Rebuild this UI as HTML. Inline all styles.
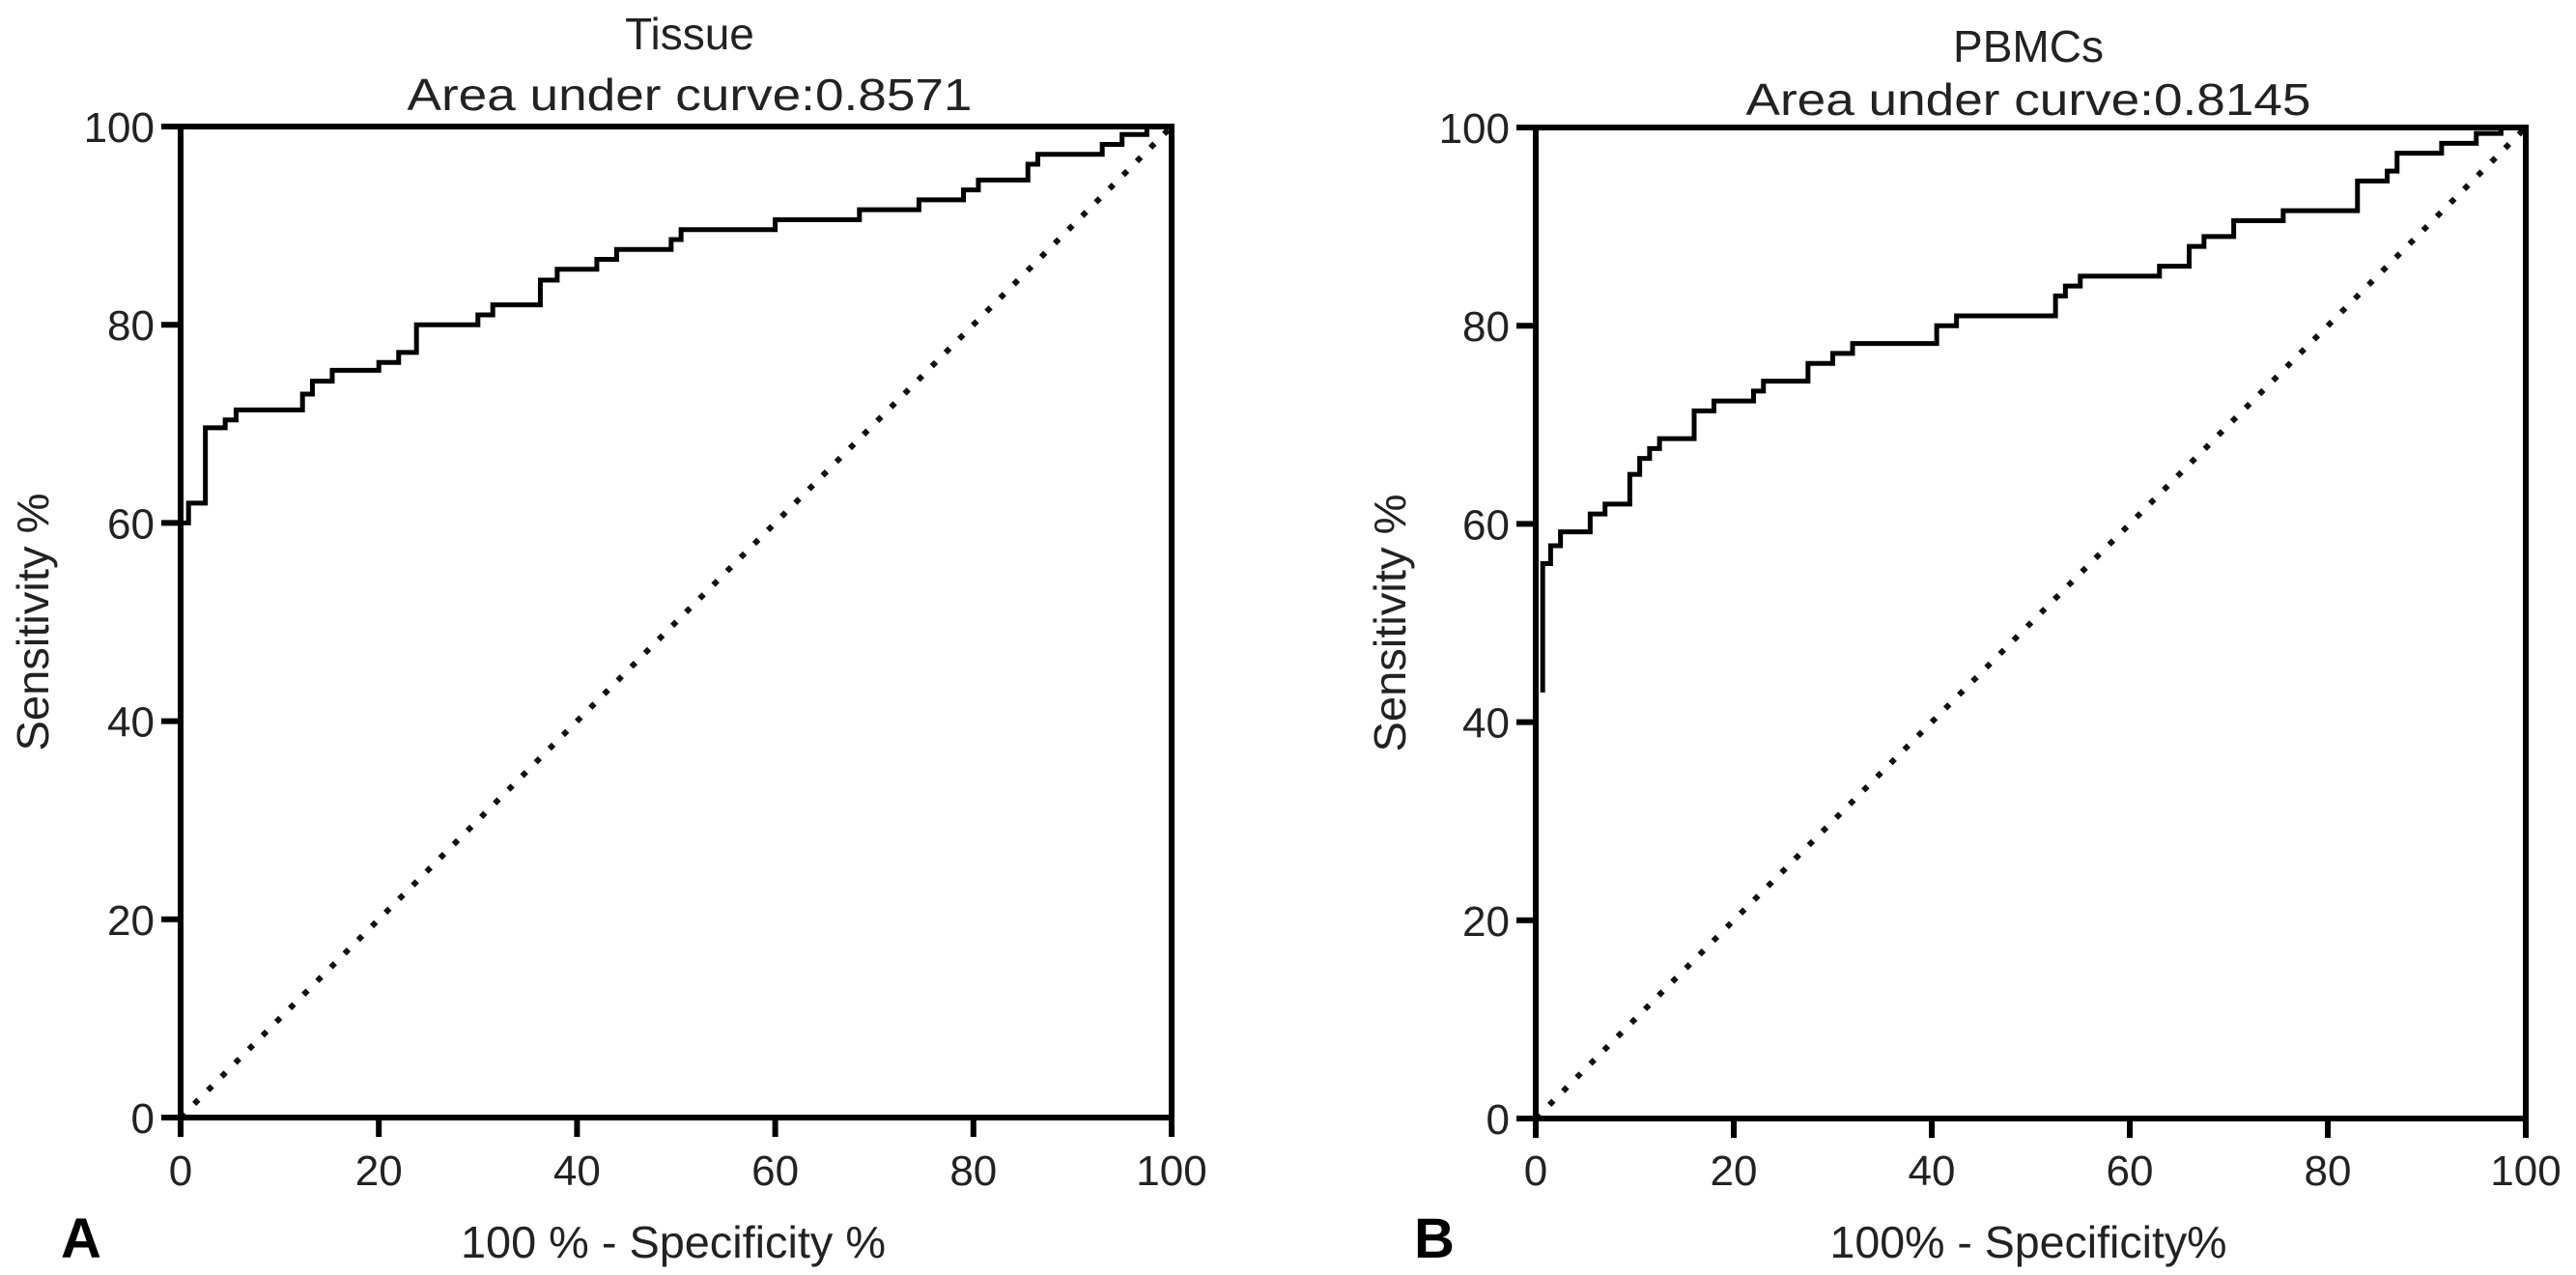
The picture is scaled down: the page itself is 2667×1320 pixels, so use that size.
<!DOCTYPE html>
<html><head><meta charset="utf-8"><style>
html,body{margin:0;padding:0;background:#fff;}
svg{display:block;font-family:"Liberation Sans",Arial,sans-serif;}
</style></head><body>
<svg id="fig" width="2667" height="1320" viewBox="0 0 2667 1320">
<rect width="2667" height="1320" fill="#fff"/>
</svg>
<script>
// Tissue ROC step vertices (100%-specificity, sensitivity)
const tissueX = [0, 0.8, 2.5, 4.5, 5.6, 12.3, 13.3, 15.3, 20, 22, 23.8, 30, 31.5, 36.3, 38, 42, 44, 49.5, 50.5, 60, 68.5, 74.5, 79, 80.5, 85.5, 86.5, 93, 95, 97.5, 100];
const tissueY = [60, 62, 69.6, 70.4, 71.4, 73, 74.3, 75.4, 76.2, 77.2, 80, 81, 82, 84.5, 85.6, 86.6, 87.6, 88.6, 89.6, 90.6, 91.6, 92.6, 93.6, 94.6, 96.2, 97.2, 98.2, 99.2, 100, 100];
// PBMCs ROC step vertices
const pbmcX = [0.7, 0.7, 1.5, 2.5, 5.5, 7, 9.5, 10.5, 11.5, 12.5, 16, 18, 22, 23, 27.5, 30, 32, 40.5, 42.5, 52.5, 53.5, 55, 63, 66, 67.5, 70.5, 75.5, 83, 86, 87, 91.5, 95, 97.5, 100];
const pbmcY = [43, 56, 57.8, 59.2, 61, 62, 65, 66.6, 67.6, 68.6, 71.4, 72.4, 73.4, 74.4, 76.2, 77.2, 78.2, 80, 81, 83, 84, 85, 86, 88, 89, 90.6, 91.6, 94.6, 95.6, 97.4, 98.4, 99.4, 100, 100];
const tickVals = [0, 20, 40, 60, 80, 100];
const tickLabels = ["0", "20", "40", "60", "80", "100"];

const NS = "http://www.w3.org/2000/svg";
const svg = document.getElementById("fig");
function mk(tag, attrs, parent){const e=document.createElementNS(NS,tag);for(const k in attrs)e.setAttribute(k,attrs[k]);(parent||svg).appendChild(e);return e;}

const panels = [
  {id:"tissue", x0:187, x1:1213, y0:1157, y1:131, xs:tissueX, ys:tissueY,
   t1:"Tissue", t2:"Area under curve:0.8571", tcx:714, tb1:51, tb2:114,
   xt:"100 % - Specificity %", xtw:440, xcx:697, yt:"Sensitivity %", ycx:50, letter:"A", lx:63},
  {id:"pbmcs", x0:1590, x1:2615, y0:1158, y1:132, xs:pbmcX, ys:pbmcY,
   t1:"PBMCs", t2:"Area under curve:0.8145", tcx:2100, tb1:64, tb2:119,
   xt:"100% - Specificity%", xtw:411, xcx:2100, yt:"Sensitivity %", ycx:1455, letter:"B", lx:1464}
];

panels.forEach(p=>{
  const g = mk("g",{});
  
  
  const sx = v => p.x0 + (p.x1-p.x0)*v/100;
  const sy = v => p.y0 + (p.y1-p.y0)*v/100;
  // diagonal reference
  const diag = mk("line",{x1:sx(0),y1:sy(0),x2:sx(100),y2:sy(100),stroke:"#111","stroke-width":6,"stroke-dasharray":"6 14"},g);
  
  
  // curve
  let d = "M"+sx(p.xs[0])+","+sy(p.ys[0]);
  for(let i=1;i<p.xs.length;i++){ d += " H"+sx(p.xs[i])+" V"+sy(p.ys[i]); }
  const c = mk("path",{d:d,fill:"none",stroke:"#000","stroke-width":5,"stroke-linejoin":"miter"},g);
  
  
  // frame
  const fr = mk("rect",{x:sx(0),y:sy(100),width:sx(100)-sx(0),height:sy(0)-sy(100),fill:"none",stroke:"#000","stroke-width":6},g);
  
  
  // ticks
  tickVals.forEach((v,i)=>{
    const tx = mk("line",{x1:sx(v),y1:sy(0),x2:sx(v),y2:sy(0)+20,stroke:"#000","stroke-width":6},g);
    
    
    const lx = mk("text",{x:sx(v),y:1227,"font-size":44,"text-anchor":"middle",fill:"#222"},g);
    lx.textContent = tickLabels[i];
    
    
    const ty = mk("line",{x1:sx(0)-20,y1:sy(v),x2:sx(0),y2:sy(v),stroke:"#000","stroke-width":6},g);
    
    
    const ly = mk("text",{x:sx(0)-27,y:sy(v)+16,"font-size":44,"text-anchor":"end",fill:"#222"},g);
    ly.textContent = tickLabels[i];
    
    
  });
  const t1 = mk("text",{x:p.tcx,y:p.tb1,"font-size":46,"text-anchor":"middle",fill:"#222"},g);
  t1.textContent = p.t1;
  
  
  const t2 = mk("text",{x:p.tcx,y:p.tb2,"font-size":46,"text-anchor":"middle",fill:"#222",textLength:585,lengthAdjust:"spacingAndGlyphs"},g);
  t2.textContent = p.t2;
  
  
  const xt = mk("text",{x:p.xcx,y:1302,"font-size":46,"text-anchor":"middle",fill:"#222",textLength:p.xtw,lengthAdjust:"spacingAndGlyphs"},g);
  xt.textContent = p.xt;
  
  
  const yc = (p.y0+p.y1)/2;
  const yt = mk("text",{x:p.ycx,y:yc,"font-size":46,"text-anchor":"middle",fill:"#222",transform:"rotate(-90 "+p.ycx+" "+yc+")",textLength:267,lengthAdjust:"spacingAndGlyphs"},g);
  yt.textContent = p.yt;
  
  
  const L = mk("text",{x:p.lx,y:1302,"font-size":58,"font-weight":"bold",fill:"#000"},g);
  L.textContent = p.letter;
  
  
});
</script>
</body></html>
